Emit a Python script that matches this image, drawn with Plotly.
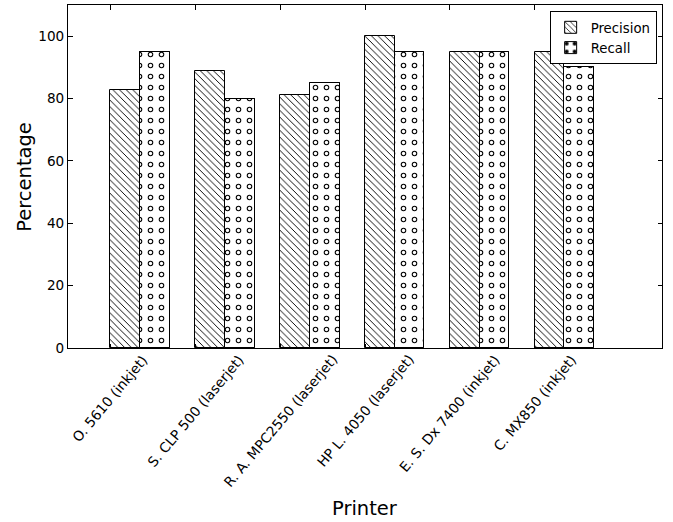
import plotly.graph_objects as go

printers = ["O. 5610 (inkjet)", "S. CLP 500 (laserjet)", "R. A. MPC2550 (laserjet)",
            "HP L. 4050 (laserjet)", "E. S. Dx 7400 (inkjet)", "C. MX850 (inkjet)"]
precision = [82.7, 88.9, 81.0, 100.0, 95.0, 94.8]
recall = [95.0, 80.0, 85.0, 95.0, 95.0, 90.0]
y_ticks = [0, 20, 40, 60, 80, 100]

FONT = "DejaVu Sans"
idx = list(range(len(printers)))
W = 0.35

fig = go.Figure()
fig.add_trace(go.Bar(
    x=idx, y=precision, width=W, offset=0, name="Precision",
    marker=dict(color="white", line=dict(color="black", width=1),
                pattern=dict(shape="\\", size=4.7, solidity=0.2,
                             fgcolor="black", bgcolor="white", fillmode="replace")),
))
fig.add_trace(go.Bar(
    x=idx, y=recall, width=W, offset=W, name="Recall",
    marker=dict(color="white", line=dict(color="black", width=1),
                pattern=dict(shape=".", size=11, solidity=0.2,
                             fgcolor="black", bgcolor="white", fillmode="replace")),
))
fig.add_trace(go.Bar(
    x=idx, y=recall, width=W, offset=W, name="Recall", showlegend=False,
    hoverinfo="skip",
    marker=dict(color="rgba(0,0,0,0)", line=dict(color="black", width=1),
                pattern=dict(shape=".", size=11, solidity=0.07,
                             fgcolor="white", bgcolor="rgba(0,0,0,0)", fillmode="replace")),
))

for i, name in enumerate(printers):
    fig.add_annotation(x=i, xref="x", y=0, yref="paper", text=name, showarrow=False,
                       textangle=-50, xanchor="center", yanchor="top", yshift=-1,
                       font=dict(family=FONT, size=13.8, color="black"))

fig.add_annotation(x=-0.0735, xref="paper", y=0.5, yref="paper", text="Percentage",
                   showarrow=False, textangle=-90, xanchor="center", yanchor="middle",
                   font=dict(family=FONT, size=19.5, color="black"))
fig.add_annotation(x=0.5, xref="paper", y=-0.469, yref="paper", text="Printer",
                   showarrow=False, xanchor="center", yanchor="middle",
                   font=dict(family=FONT, size=19.5, color="black"))

fig.update_layout(
    width=673, height=522,
    margin=dict(l=68, r=11, t=5, b=174, pad=0),
    paper_bgcolor="white", plot_bgcolor="white",
    barmode="overlay", bargap=0,
    font=dict(family=FONT, size=13.3, color="black"),
    showlegend=True,
    legend=dict(x=0.991, y=0.982, xanchor="right", yanchor="top",
                bgcolor="white", bordercolor="black", borderwidth=1,
                font=dict(family=FONT, size=13.3, color="black"),
                tracegroupgap=0, itemwidth=30),
    xaxis=dict(range=[-0.5, 6.5], tickvals=idx, showticklabels=False,
               ticks="inside", ticklen=4.5, tickcolor="black",
               showline=True, linecolor="black", linewidth=1, mirror="ticks",
               showgrid=False, zeroline=False),
    yaxis=dict(range=[0, 110], tickvals=y_ticks, ticktext=[str(v) for v in y_ticks],
               ticks="inside", ticklen=4.5, tickcolor="black",
               showline=True, linecolor="black", linewidth=1, mirror="ticks",
               showgrid=False, zeroline=False, ticklabelstandoff=0,
               tickfont=dict(family=FONT, size=13.6, color="black")),
)

fig.write_html("out.html", config={"displayModeBar": False},
               post_script="document.body.style.margin='0px';document.body.style.overflow='hidden';")
